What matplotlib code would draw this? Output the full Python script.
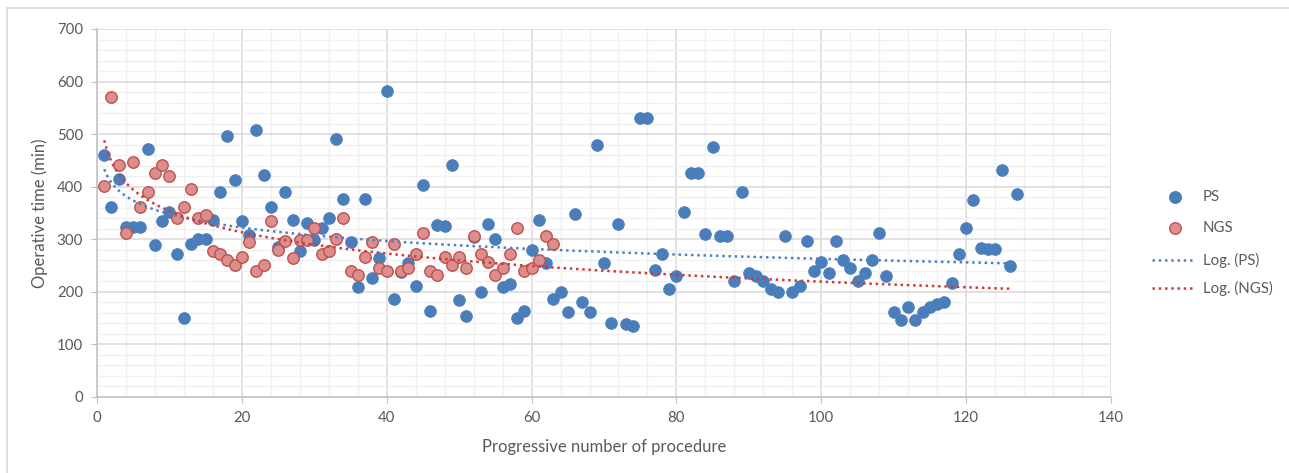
import numpy as np
import matplotlib
matplotlib.use("Agg")
import matplotlib.pyplot as plt
from matplotlib.lines import Line2D
from matplotlib.ticker import MultipleLocator

# ---------------- data ----------------
ps_x = list(range(1, 128))
ps_y = [461, 362, 415, 324, 323, 323, 471, 290, 335, 351,
        272, 150, 291, 301, 301, 336, 390, 497, 413, 334,
        308, 508, 423, 362, 286, 390, 337, 277, 331, 299,
        322, 341, 491, 377, 295, 210, 376, 227, 264, 582,
        186, 237, 254, 211, 403, 164, 327, 325, 441, 184,
        154, 305, 200, 329, 300, 209, 214, 150, 164, 279,
        337, 255, 187, 199, 161, 348, 181, 161, 480, 255,
        141, 329, 139, 135, 531, 531, 241, 272, 205, 231,
        351, 426, 426, 311, 475, 306, 306, 220, 390, 236,
        231, 220, 205, 200, 306, 200, 211, 296, 240, 256,
        236, 296, 261, 245, 220, 236, 261, 312, 231, 161,
        147, 172, 147, 161, 172, 176, 181, 216, 272, 322,
        375, 284, 281, 281, 431, 250, 387]

ngs_x = list(range(1, 64))
ngs_y = [401, 571, 441, 312, 447, 361, 390, 426, 441, 420,
         341, 362, 396, 341, 346, 277, 272, 261, 251, 267,
         295, 240, 251, 335, 280, 296, 264, 298, 298, 322,
         272, 277, 301, 341, 240, 232, 267, 295, 245, 240,
         291, 240, 245, 272, 312, 240, 232, 267, 252, 267,
         245, 307, 272, 256, 232, 245, 272, 322, 240, 245,
         260, 307, 291]

series_names = ["PS", "NGS", "Log. (PS)", "Log. (NGS)"]
x_label = "Progressive number of procedure"
y_label = "Operative time (min)"

# ---------------- style ----------------
FONT = ["Lato", "DejaVu Sans"]
plt.rcParams["font.family"] = FONT
TXT = "#595959"
BLUE = "#4A7EBB"
BLUE_LINE = "#4F81BD"
RED_FACE = "#DC8E8D"
RED_EDGE = "#C0504D"
RED_LINE = "#D23A37"

W, H = 1289, 473
fig = plt.figure(figsize=(W / 100, H / 100), dpi=100)
ax = fig.add_axes([97 / W, 1 - 397 / H, (1111 - 97) / W, (397 - 29) / H])

ax.set_xlim(0, 140)
ax.set_ylim(0, 700)
ax.xaxis.set_major_locator(MultipleLocator(20))
ax.xaxis.set_minor_locator(MultipleLocator(4))
ax.yaxis.set_major_locator(MultipleLocator(100))
ax.yaxis.set_minor_locator(MultipleLocator(20))
ax.grid(which="major", color="#D9D9D9", lw=1.1, zorder=0)
ax.grid(which="minor", color="#F0F0F0", lw=1.0, zorder=0)
ax.set_axisbelow(True)
for s in ["top", "right"]:
    ax.spines[s].set_visible(False)
for s in ["left", "bottom"]:
    ax.spines[s].set_color("#BFBFBF")
    ax.spines[s].set_linewidth(1.1)
ax.tick_params(which="major", length=4, color="#BFBFBF", labelsize=10.8,
               labelcolor=TXT, pad=6)
ax.tick_params(which="minor", length=0)

ms = 68
ax.scatter(ps_x, ps_y, s=ms, color=BLUE, edgecolors=BLUE, linewidths=0.8, zorder=3)
ax.scatter(ngs_x, ngs_y, s=ms, color=RED_FACE, edgecolors=RED_EDGE, linewidths=1.0,
           zorder=4)

# logarithmic trend lines (least squares on ln x)
xt = np.linspace(1, 126.3, 400)
bp, ap = np.polyfit(np.log(ps_x), ps_y, 1)
bn, an = np.polyfit(np.log(ngs_x), ngs_y, 1)
ax.plot(xt, ap + bp * np.log(xt), color=BLUE_LINE, lw=1.8, ls=(0, (1, 1.5)), zorder=5)
ax.plot(xt, an + bn * np.log(xt), color=RED_LINE, lw=1.8, ls=(0, (1, 1.5)), zorder=5)

ax.set_xlabel(x_label, fontsize=12, color=TXT, labelpad=10)
ax.set_ylabel(y_label, fontsize=12, color=TXT, labelpad=6)

# ---------------- legend (figure coords) ----------------
def fx(px):
    return px / W

def fy(py):
    return 1 - py / H

rows = [197, 228, 260, 288]
fig.add_artist(Line2D([fx(1175)], [fy(rows[0])], marker="o", ms=8.3, color=BLUE,
                      mec=BLUE, ls="none"))
fig.add_artist(Line2D([fx(1175)], [fy(rows[1])], marker="o", ms=8.3, color=RED_FACE,
                      mec=RED_EDGE, mew=1.0, ls="none"))
fig.add_artist(Line2D([fx(1152), fx(1193)], [fy(rows[2])] * 2, color=BLUE_LINE, lw=1.8,
                      ls=(0, (1, 1.5))))
fig.add_artist(Line2D([fx(1152), fx(1193)], [fy(rows[3])] * 2, color=RED_LINE, lw=1.8,
                      ls=(0, (1, 1.5))))
for r, name in zip(rows, series_names):
    fig.text(fx(1203), fy(r), name, fontsize=10.8, color=TXT, va="center", ha="left")

# chart border
fig.add_artist(Line2D([fx(7), 1], [fy(8), fy(8)], color="#D9D9D9", lw=1.2))
fig.add_artist(Line2D([fx(7), fx(7)], [0, fy(8)], color="#D9D9D9", lw=1.2))

fig.savefig("out.png", dpi=100)
